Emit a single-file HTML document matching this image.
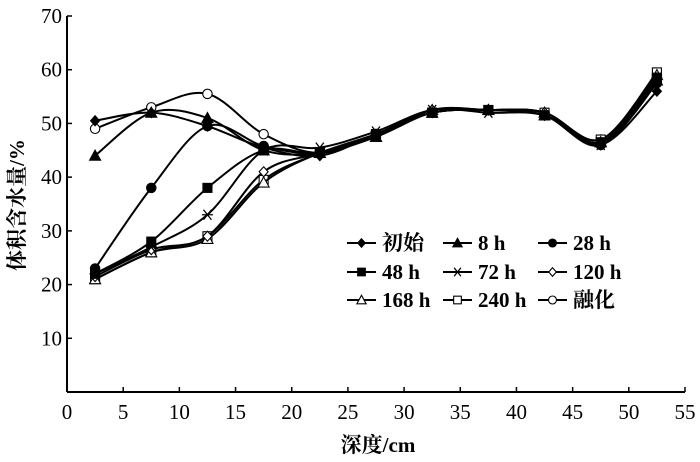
<!DOCTYPE html>
<html><head><meta charset="utf-8"><style>
html,body{margin:0;padding:0;background:#fff;}
svg{display:block;font-family:"Liberation Serif","Noto Serif CJK SC",serif;}
</style></head><body>
<svg id="chart" width="700" height="462" viewBox="0 0 700 462"></svg>
<script>
const xCats=[2.5,7.5,12.5,17.5,22.5,27.5,32.5,37.5,42.5,47.5,52.5];
const sNames=["初始","8 h","28 h","48 h","72 h","120 h","168 h","240 h","融化"];
const sMarkers=["diamondF","triF","circleF","squareF","star","diamondO","triO","squareO","circleO"];
const s0=[50.5,52,49.5,45.5,44,48,52,52.5,51.5,46,56];
const s1=[44,52,51,45,44.5,47.5,52,52.5,51.5,46.5,58];
const s2=[23,38,49.5,45.8,44.5,48,52,52.5,51.5,46,57.5];
const s3=[22,28,38,45,44.5,48,52,52.5,51.5,46.5,58.5];
const s4=[22,27,33,45,45.5,48.5,52.5,52,51.5,46,58.5];
const s5=[21.5,26.5,29,41,44.5,48,52.5,52.5,52,46.5,58.5];
const s6=[21,26,28.5,39,44.5,47.5,52.5,52.5,52,46.5,59];
const s7=[21,26,29,39.5,44.5,48,52,52.5,52,47,59.5];
const s8=[49,53,55.5,48,44.5,48,52,52.5,52,47,59];
const xTicks=[0,5,10,15,20,25,30,35,40,45,50,55];
const yTicks=[10,20,30,40,50,60,70];
const series=[s0,s1,s2,s3,s4,s5,s6,s7,s8];

const NS="http://www.w3.org/2000/svg";
const svg=document.getElementById('chart');
const X0=67,X1=685,Y0=392,Y1=16;
const sx=v=>X0+(v/55)*(X1-X0);
const sy=v=>Y0-(v/70)*(Y0-Y1);
function mk(tag,at,parent){const e=document.createElementNS(NS,tag);for(const k in at)e.setAttribute(k,at[k]);(parent||svg).appendChild(e);return e;}

let ax=mk('line',{x1:X0,y1:Y0,x2:X1,y2:Y0,stroke:'#000','stroke-width':2});


let ay=mk('line',{x1:X0,y1:Y0,x2:X0,y2:Y1,stroke:'#000','stroke-width':2});


xTicks.forEach(t=>{
  const x=sx(t);
  let tk=mk('line',{x1:x,y1:Y0,x2:x,y2:Y0-5,stroke:'#000','stroke-width':1.5});
  
  
  let tl=mk('text',{x:x,y:Y0+27,'text-anchor':'middle','font-size':21});
  tl.textContent=t;
  
  
});
yTicks.forEach(t=>{
  const y=sy(t);
  let tk=mk('line',{x1:X0,y1:y,x2:X0+5,y2:y,stroke:'#000','stroke-width':1.5});
  
  
  let tl=mk('text',{x:X0-5,y:y+7,'text-anchor':'end','font-size':21});
  tl.textContent=t;
  
  
});
let xt=mk('text',{x:378,y:452,'text-anchor':'middle','font-size':21,'font-weight':'bold'});
xt.textContent='深度/cm';


let yt=mk('text',{x:0,y:0,'text-anchor':'middle','font-size':21,'font-weight':'bold',transform:'translate(24,205) rotate(-90)'});
yt.textContent='体积含水量/%';



function marker(type,x,y,g,s){
  s=s||1;
  const f=type.endsWith('F')?'#000':'#fff';
  const base=type.replace(/[FO]$/,'');
  if(base==='diamond')return mk('polygon',{points:`${x},${y-5*s} ${x+4.5*s},${y} ${x},${y+5*s} ${x-4.5*s},${y}`,fill:f,stroke:'#000','stroke-width':1.1},g);
  if(base==='tri')return mk('polygon',{points:`${x},${y-5.5*s} ${x+5.5*s},${y+4.5*s} ${x-5.5*s},${y+4.5*s}`,fill:f,stroke:'#000','stroke-width':1.1},g);
  if(base==='circle')return mk('circle',{cx:x,cy:y,r:4.7*s,fill:f,stroke:'#000','stroke-width':1.1},g);
  if(base==='square')return mk('rect',{x:x-4.5*s,y:y-4.5*s,width:9*s,height:9*s,fill:f,stroke:'#000','stroke-width':1.1},g);
  if(base==='star'){const p=`M${x-5.5*s},${y}H${x+5.5*s}M${x-4*s},${y-5*s}L${x+4*s},${y+5*s}M${x+4*s},${y-5*s}L${x-4*s},${y+5*s}`;return mk('path',{d:p,stroke:'#000','stroke-width':1.3,fill:'none'},g);}
}
function spline(pts){
  let d=`M${pts[0][0]},${pts[0][1]}`;
  for(let i=0;i<pts.length-1;i++){
    const p0=pts[i-1]||pts[i],p1=pts[i],p2=pts[i+1],p3=pts[i+2]||p2;
    const c1=[p1[0]+(p2[0]-p0[0])/6,p1[1]+(p2[1]-p0[1])/6];
    const c2=[p2[0]-(p3[0]-p1[0])/6,p2[1]-(p3[1]-p1[1])/6];
    d+=`C${c1[0]},${c1[1]} ${c2[0]},${c2[1]} ${p2[0]},${p2[1]}`;
  }
  return d;
}
for(let si=series.length-1;si>=0;si--){
  const vals=series[si];
  const g=mk('g',{});
  
  
  const pts=vals.map((v,i)=>[sx(xCats[i]),sy(v)]);
  const p=mk('path',{d:spline(pts),fill:'none',stroke:'#000','stroke-width':2},g);
  
  
  pts.forEach(pt=>{
    const m=marker(sMarkers[si],pt[0],pt[1],g);
    
    
  });
}
const lg=mk('g',{});


const colX=[347,443,538],rowY=[243,272,300];
sNames.forEach((n,i)=>{
  const cx=colX[i%3],cy=rowY[Math.floor(i/3)];
  const g=mk('g',{},lg);
  
  
  mk('line',{x1:cx,y1:cy,x2:cx+29,y2:cy,stroke:'#000','stroke-width':2},g);
  marker(sMarkers[i],cx+14.5,cy,g,0.85);
  const t=mk('text',{x:cx+35,y:cy+7,'font-size':21,'font-weight':'bold'},g);
  t.textContent=n;
});
</script>
</body></html>
